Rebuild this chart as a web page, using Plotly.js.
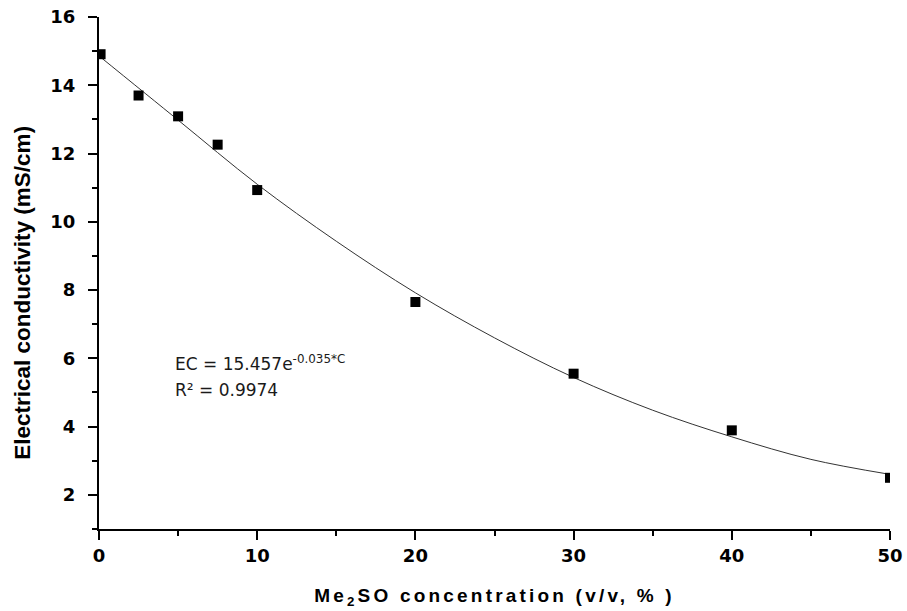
<!DOCTYPE html>
<html>
<head>
<meta charset="utf-8">
<script src="https://cdn.plot.ly/plotly-3.0.1.min.js"></script>
<style>html,body{margin:0;padding:0;background:#fff;}#chart{width:907px;height:611px;}
#chart .xtitle{letter-spacing:3.2px;}</style>
</head>
<body>
<div id="chart"></div>
<script>
// Measured data (Me2SO concentration %, electrical conductivity mS/cm)
const concentration = [0.1, 2.5, 5, 7.5, 10, 20, 30, 40, 50];
const conductivity = [14.91, 13.70, 13.09, 12.26, 10.93, 7.65, 5.55, 3.89, 2.50];

// Fitted curve
const fitX = [0, 5, 10, 15, 20, 25, 30, 35, 40, 45, 50];
const fitY = [14.86, 12.98, 11.10, 9.43, 7.92, 6.60, 5.44, 4.48, 3.70, 3.04, 2.60];

const xTicks = [0, 10, 20, 30, 40, 50];
const yTicks = [2, 4, 6, 8, 10, 12, 14, 16];

const eqText = 'EC = 15.457e<sup>-0.035*C</sup>';
const r2Text = 'R² = 0.9974';
const xTitle = 'Me<sub>2</sub>SO concentration (v/v, % )';
const yTitle = 'Electrical conductivity (mS/cm)';

const FAM = 'Liberation Sans, Arial, sans-serif';
const TICKFAM = 'DejaVu Sans, Liberation Sans, sans-serif';

const traces = [
  {
    x: fitX, y: fitY, type: 'scatter', mode: 'lines',
    line: {color: '#333333', width: 1, shape: 'spline', smoothing: 1},
    hoverinfo: 'skip', showlegend: false
  },
  {
    x: concentration, y: conductivity, type: 'scatter', mode: 'markers',
    marker: {symbol: 'square', size: 10, color: '#000'},
    cliponaxis: true, showlegend: false
  }
];

const layout = {
  width: 907, height: 611,
  margin: {l: 99, r: 17, t: 17, b: 82},
  paper_bgcolor: '#fff', plot_bgcolor: '#fff',
  font: {family: FAM, size: 18, color: '#000', weight: 700},
  showlegend: false,
  xaxis: {
    range: [0, 50], tickmode: 'array', tickvals: xTicks, ticktext: xTicks.map(String),
    showgrid: false, zeroline: false,
    showline: true, linecolor: '#000', linewidth: 2,
    ticks: 'outside', ticklen: 9, tickwidth: 2, tickcolor: '#000',
    minor: {dtick: 5, tick0: 0, ticks: 'outside', ticklen: 5, tickwidth: 2, tickcolor: '#000', showgrid: false},
    tickfont: {family: TICKFAM, size: 18, color: '#000', weight: 700},
    title: {text: xTitle, font: {family: FAM, size: 19, color: '#000', weight: 700}, standoff: 24},
    automargin: false
  },
  yaxis: {
    range: [1, 16], tickmode: 'array', tickvals: yTicks, ticktext: yTicks.map(String),
    showgrid: false, zeroline: false,
    showline: true, linecolor: '#000', linewidth: 2,
    ticks: 'outside', ticklen: 9, tickwidth: 2, tickcolor: '#000',
    minor: {dtick: 1, tick0: 1, ticks: 'outside', ticklen: 5, tickwidth: 2, tickcolor: '#000', showgrid: false},
    tickfont: {family: TICKFAM, size: 18, color: '#000', weight: 700},
    ticklabelstandoff: 9,
    automargin: false
  },
  annotations: [
    {xref: 'paper', yref: 'paper', x: -0.097, y: 0.462, xanchor: 'center', yanchor: 'middle',
     textangle: -90, text: yTitle, showarrow: false,
     font: {family: FAM, size: 22.5, color: '#000', weight: 700}},
    {xref: 'paper', yref: 'paper', x: 0.0936, y: 0.325, xanchor: 'left', yanchor: 'middle',
     text: eqText, showarrow: false, font: {family: 'DejaVu Sans, Verdana, sans-serif', size: 17, color: '#1a1a1a', weight: 400}},
    {xref: 'paper', yref: 'paper', x: 0.0936, y: 0.272, xanchor: 'left', yanchor: 'middle',
     text: r2Text, showarrow: false, font: {family: 'DejaVu Sans, Verdana, sans-serif', size: 17, color: '#1a1a1a', weight: 400}}
  ]
};

Plotly.newPlot('chart', traces, layout, {displayModeBar: false, staticPlot: true});
</script>
</body>
</html>
